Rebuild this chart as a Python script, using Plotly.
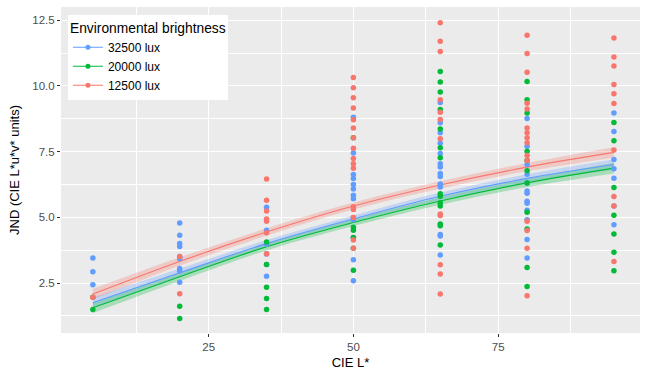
import plotly.graph_objects as go

# ---------------- data ----------------
groups = ["32500 lux", "20000 lux", "12500 lux"]
colors = {"32500 lux": "#619CFF", "20000 lux": "#00BA38", "12500 lux": "#F8766D"}
band_colors = {"32500 lux": "rgba(97,156,255,0.28)",
               "20000 lux": "rgba(0,186,56,0.28)",
               "12500 lux": "rgba(248,118,109,0.28)"}

lstar_levels = [5, 20, 35, 50, 65, 80, 95]

jnd_32500 = {
    5: [3.45, 2.93, 2.44],
    20: [4.78, 4.32, 4.00, 3.89, 3.51, 3.42, 3.05, 2.96, 2.53],
    35: [5.38, 4.51, 3.98, 3.61, 3.21, 2.76],
    50: [8.81, 7.45, 6.63, 6.48, 6.25, 6.08, 5.84, 5.71, 4.99, 4.91, 4.23, 3.39, 2.59],
    65: [9.37, 8.60, 8.22, 7.82, 7.43, 7.04, 6.91, 6.67, 6.55, 6.27, 6.15, 4.35, 4.29, 3.57],
    80: [8.76, 7.70, 7.01, 6.64, 6.31, 6.00, 5.92, 5.61, 5.54, 5.27, 4.91, 4.16, 3.45],
    95: [8.97, 8.26, 7.20, 6.85, 6.49, 5.43, 4.72],
}
jnd_20000 = {
    5: [1.96, 1.49],
    20: [1.62, 1.15],
    35: [4.06, 3.21, 2.34, 1.91, 1.49],
    50: [8.03, 4.62, 4.51, 4.23, 3.82, 2.99],
    65: [10.55, 10.15, 9.77, 9.10, 8.36, 7.65, 7.27, 5.90, 5.80, 5.55, 5.43, 4.75, 4.68, 3.95],
    80: [10.17, 9.47, 8.97, 7.51, 7.16, 6.77, 6.31, 5.19, 4.56, 3.09, 2.37],
    95: [8.61, 7.91, 6.13, 5.08, 4.37, 3.67, 2.97],
}
jnd_12500 = {
    5: [1.96],
    20: [3.51, 2.09],
    35: [6.46, 5.65, 5.24, 4.94, 4.85, 4.41, 3.61],
    50: [10.32, 9.93, 9.55, 9.16, 8.71, 8.40, 8.03, 7.63, 7.24, 7.04, 6.87, 5.40, 5.30, 4.99, 4.14, 3.82],
    65: [12.40, 11.70, 11.31, 9.47, 9.00, 8.72, 7.99, 5.13, 5.07, 3.20, 2.84, 2.08],
    80: [11.93, 11.23, 10.52, 9.34, 9.12, 8.40, 8.22, 8.03, 7.84, 7.35, 7.16, 4.85, 4.50, 3.82, 2.02],
    95: [11.82, 11.10, 10.76, 10.05, 9.70, 9.33, 7.56, 5.79, 5.43, 3.32],
}
points = {"32500 lux": jnd_32500, "20000 lux": jnd_20000, "12500 lux": jnd_12500}

# fitted curves and their standard-error half widths
fit_x = [5, 20, 35, 50, 65, 80, 95]
fit_32500 = [1.75, 2.89, 4.00, 4.94, 5.80, 6.48, 7.01]
fit_20000 = [1.56, 2.74, 3.88, 4.80, 5.62, 6.31, 6.87]
fit_12500 = [2.08, 3.32, 4.44, 5.43, 6.23, 6.91, 7.47]
se_half = [0.20, 0.16, 0.14, 0.13, 0.14, 0.16, 0.20]
fits = {"32500 lux": fit_32500, "20000 lux": fit_20000, "12500 lux": fit_12500}

x_ticks = [25, 50, 75]
x_minor = [12.5, 37.5, 62.5, 87.5]
y_ticks = [2.5, 5.0, 7.5, 10.0, 12.5]
y_minor = [1.25, 3.75, 6.25, 8.75, 11.25]

# ---------------- figure ----------------
fig = go.Figure()
FONT = "Liberation Sans, Arial, sans-serif"

# bands
for g in groups:
    f = fits[g]
    upper = [v + s for v, s in zip(f, se_half)]
    lower = [v - s for v, s in zip(f, se_half)]
    fig.add_trace(go.Scatter(x=fit_x, y=upper, mode="lines", line=dict(width=0, shape="spline"),
                             showlegend=False, hoverinfo="skip"))
    fig.add_trace(go.Scatter(x=fit_x, y=lower, mode="lines", line=dict(width=0, shape="spline"),
                             fill="tonexty", fillcolor=band_colors[g],
                             showlegend=False, hoverinfo="skip"))
# lines
for g in groups:
    fig.add_trace(go.Scatter(x=fit_x, y=fits[g], mode="lines",
                             line=dict(color=colors[g], width=1.1, shape="spline"),
                             showlegend=False, hoverinfo="skip"))
# points
for g in groups:
    xs, ys = [], []
    for L in lstar_levels:
        for v in points[g][L]:
            xs.append(L)
            ys.append(v)
    fig.add_trace(go.Scatter(x=xs, y=ys, mode="markers",
                             marker=dict(color=colors[g], size=5.5, line=dict(width=0)),
                             showlegend=False, name=g))
# legend entries
for g in groups:
    fig.add_trace(go.Scatter(x=[None], y=[None], mode="lines+markers", name=g,
                             line=dict(color=colors[g], width=1.1),
                             marker=dict(color=colors[g], size=5),
                             showlegend=True))

axis_common = dict(
    showline=False, zeroline=False,
    gridcolor="white", gridwidth=1.1,
    ticks="outside", ticklen=3, tickwidth=1, tickcolor="#333333",
    tickfont=dict(family=FONT, size=11.5, color="#4D4D4D"),
)

fig.update_xaxes(range=[-0.5, 99.5], tickvals=x_ticks,
                 minor=dict(tickvals=x_minor, showgrid=True, gridcolor="white", gridwidth=0.5, ticks=""),
                 title=dict(text="CIE L*", font=dict(family=FONT, size=13, color="black"), standoff=6),
                 **axis_common)
fig.update_yaxes(range=[0.6, 13.0], tickvals=y_ticks, tickformat=".1f",
                 minor=dict(tickvals=y_minor, showgrid=True, gridcolor="white", gridwidth=0.5, ticks=""),
                 title=dict(text="JND (CIE L*u*v* units)", font=dict(family=FONT, size=13, color="black"), standoff=9),
                 **axis_common)

fig.update_layout(
    width=647, height=375,
    margin=dict(l=61, r=7, t=7, b=35),
    paper_bgcolor="white", plot_bgcolor="#EBEBEB",
    font=dict(family=FONT),
    legend=dict(
        x=0.012, y=0.976, xanchor="left", yanchor="top",
        bgcolor="white", borderwidth=0,
        traceorder="normal",
        title=dict(text="Environmental brightness", font=dict(family=FONT, size=13.8, color="black")),
        font=dict(family=FONT, size=12, color="black"),
        itemwidth=30, tracegroupgap=0,
    ),
)

fig.write_html("out.html")
